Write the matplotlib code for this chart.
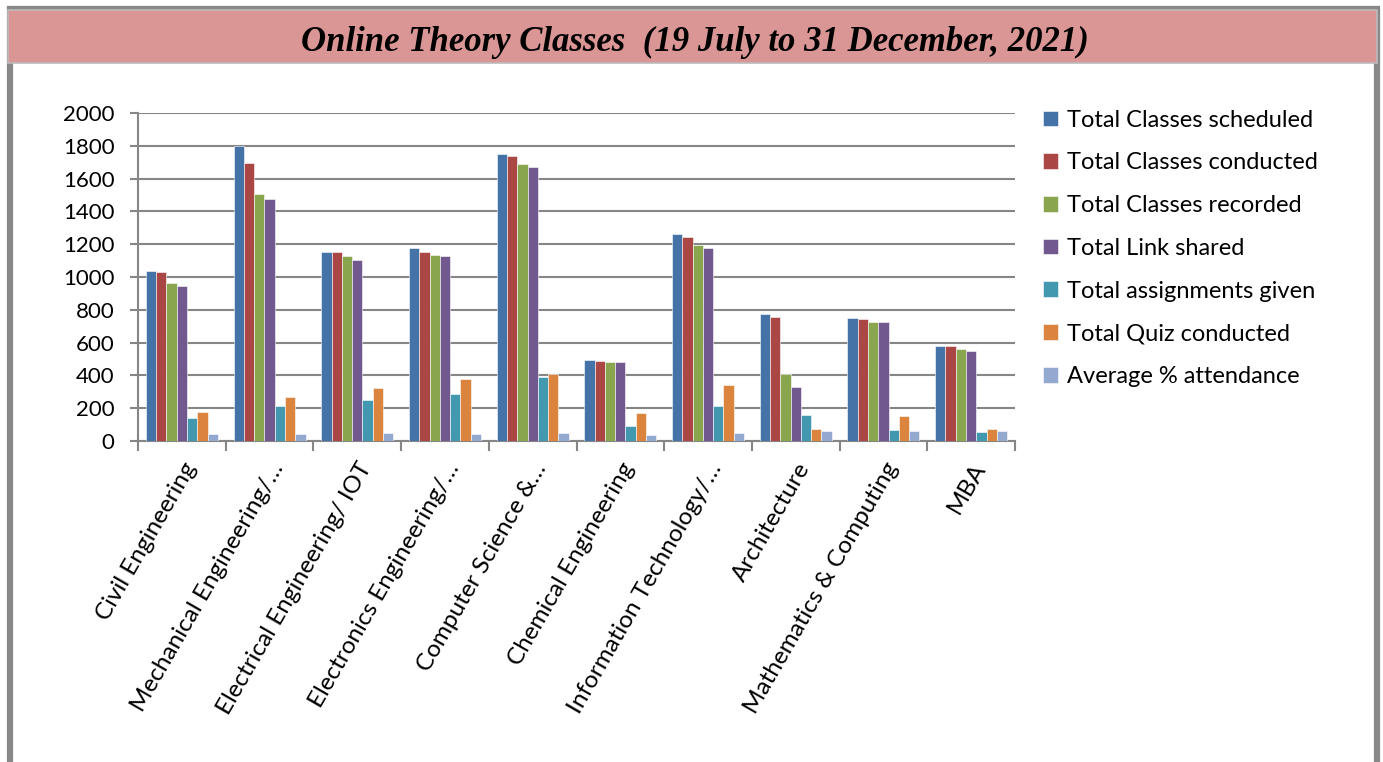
import numpy as np
import matplotlib
matplotlib.use("Agg")
import matplotlib.pyplot as plt
from matplotlib.patches import Rectangle

# Datos
departamentos = ["Civil Engineering", "Mechanical Engineering/\u2026",
                 "Electrical Engineering/ IOT", "Electronics Engineering/\u2026",
                 "Computer Science &\u2026", "Chemical Engineering",
                 "Information Technology/\u2026", "Architecture",
                 "Mathematics & Computing", "MBA"]

series = ["Total Classes scheduled", "Total Classes conducted",
          "Total Classes recorded", "Total Link shared",
          "Total assignments given", "Total Quiz conducted",
          "Average % attendance"]

clases_programadas = [1035, 1800, 1155, 1175, 1750, 495, 1265, 775, 748, 578]
clases_realizadas = [1030, 1695, 1155, 1152, 1738, 486, 1242, 757, 742, 578]
clases_grabadas = [962, 1508, 1127, 1132, 1686, 482, 1195, 410, 728, 558]
enlaces_compartidos = [945, 1473, 1106, 1128, 1668, 482, 1175, 328, 724, 546]
tareas = [140, 214, 249, 285, 390, 92, 214, 158, 68, 56]
quizzes = [178, 268, 322, 378, 407, 170, 340, 72, 155, 72]
asistencia = [41, 41, 47, 41, 49, 37, 47, 61, 59, 61]

valores = [clases_programadas, clases_realizadas, clases_grabadas,
           enlaces_compartidos, tareas, quizzes, asistencia]

colores = ["#4572A7", "#AA4643", "#89A54E", "#71588F",
           "#4198AF", "#DB843D", "#93A9CF"]

fig = plt.figure(figsize=(13.83, 7.62), dpi=100)

# ==========================================
# Marco y banda del titulo
# ==========================================
fig.patches.append(Rectangle((10 / 1383, -0.01), (1377 - 10) / 1383, 1.0 - 9 / 762 + 0.01,
                             transform=fig.transFigure, facecolor="white",
                             edgecolor="#888888", linewidth=4.5, zorder=-2))
fig.patches.append(Rectangle((8 / 1383, 1 - 63 / 762), (1377 - 8) / 1383, 53 / 762,
                             transform=fig.transFigure, facecolor="#D99694",
                             edgecolor="#BBBBBB", linewidth=1.2, zorder=-1))
fig.text(695 / 1383, 1 - 42 / 762, "Online Theory Classes  (19 July to 31 December, 2021)",
         ha="center", va="center", fontsize=25, fontweight="bold", fontstyle="italic",
         family="Liberation Serif")

# ==========================================
# Grafico de barras
# ==========================================
ax = fig.add_axes([138 / 1383, 1 - 441 / 762, 877 / 1383, 328 / 762])
ax.set_zorder(2)
ax.patch.set_alpha(0)
x = np.arange(len(departamentos))
ancho = 0.82 / len(series)
for i, (nombre, vals) in enumerate(zip(series, valores)):
    desplazamiento = (i - (len(series) - 1) / 2) * ancho
    ax.bar(x + desplazamiento, vals, width=ancho, color=colores[i],
           edgecolor="#FFFFFF", linewidth=0.4, label=nombre, zorder=3)

ax.set_xlim(-0.5, len(departamentos) - 0.5)
ax.set_ylim(0, 2000)
ax.set_yticks(np.arange(0, 2001, 200))
ax.grid(axis="y", color="#868686", linewidth=1.5, zorder=0)

ax.set_xticks(np.arange(-0.5, len(departamentos), 1.0))
ax.set_xticklabels([])
ax.set_xticks(x, minor=True)
ax.set_xticklabels(departamentos, minor=True, rotation=60, ha="right",
                   rotation_mode="anchor", fontsize=17.5, family="Lato")
ax.tick_params(axis="x", which="minor", length=0, pad=13)
ax.tick_params(axis="x", which="major", length=7, width=1.5, color="#868686")
ax.tick_params(axis="y", length=6, width=1.5, color="#868686", labelsize=16, pad=11)
for lbl in ax.get_yticklabels():
    lbl.set_family("Lato")

for lado in ["top", "right"]:
    ax.spines[lado].set_visible(False)
for lado in ["left", "bottom"]:
    ax.spines[lado].set_color("#868686")
    ax.spines[lado].set_linewidth(1.5)

ax.legend(loc="upper left", bbox_to_anchor=(1.032, 1.01), frameon=False,
          borderpad=0, borderaxespad=0,
          prop={"family": "Lato", "size": 17}, handlelength=0.65, handleheight=0.65,
          handletextpad=0.35, labelspacing=0.92)

plt.savefig("out.png", dpi=100)
